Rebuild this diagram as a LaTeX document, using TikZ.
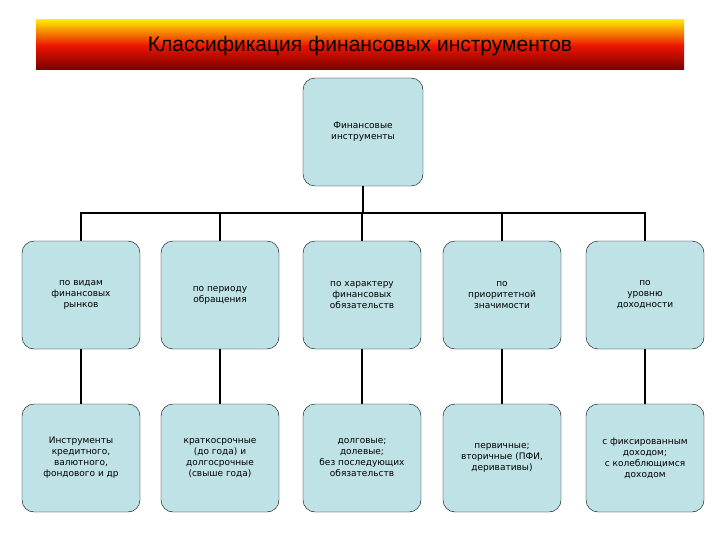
\documentclass[tikz,border=0pt]{standalone}
\usepackage{fontspec}
\setmainfont{DejaVu Sans}
\newfontfamily\titlefont{Liberation Sans}
\definecolor{boxfill}{RGB}{190,226,230}
\definecolor{tyellow}{RGB}{255,230,0}
\definecolor{tred}{RGB}{235,20,0}
\definecolor{tdark}{RGB}{120,0,0}
\begin{document}
\begin{tikzpicture}[x=1pt,y=-1pt,
  bx/.style={draw=black,fill=boxfill,rounded corners=12pt,minimum width=118pt,minimum height=108pt,
    align=center,font=\fontsize{9}{11}\selectfont,inner sep=1pt},
  ln/.style={line width=2.2pt}]
\useasboundingbox (0,0) rectangle (720,540);
\shade[top color=tyellow,bottom color=tred] (36,20) rectangle (684,46);
\shade[top color=tred,bottom color=tdark] (36,46) rectangle (684,70);
\node[font=\titlefont\fontsize{21}{24}\selectfont] (title) at (360,46) {Классификация финансовых инструментов};
\node[bx,minimum width=120pt] (top) at (363,132) {Финансовые\\инструменты};
\foreach \n/\x/\t in {a/81/{по видам\\финансовых\\рынков},b/220/{по периоду\\обращения},c/362/{по характеру\\финансовых\\обязательств},d/502/{по\\приоритетной\\значимости},e/645/{по\\уровню\\доходности}}
  \node[bx] (\n1) at (\x,295) {\t};
\foreach \n/\x/\t in {a/81/{Инструменты\\кредитного,\\валютного,\\фондового и др},b/220/{краткосрочные\\(до года) и\\долгосрочные\\(свыше года)},c/362/{долговые;\\долевые;\\без последующих\\обязательств},d/502/{первичные;\\вторичные (ПФИ,\\деривативы)},e/645/{с фиксированным\\доходом;\\с колеблющимся\\доходом}}
  \node[bx] (\n2) at (\x,458) {\t};
\coordinate (bus) at (363,213);
\draw[ln] (top.south) -- (bus);
\draw[ln] (a1.north) |- (bus) -| (e1.north);
\foreach \n in {b,c,d} \draw[ln] (\n1.north) -- (\n1.north |- bus);
\foreach \n in {a,b,c,d,e} \draw[ln] (\n1.south) -- (\n2.north);
\end{tikzpicture}
\end{document}
